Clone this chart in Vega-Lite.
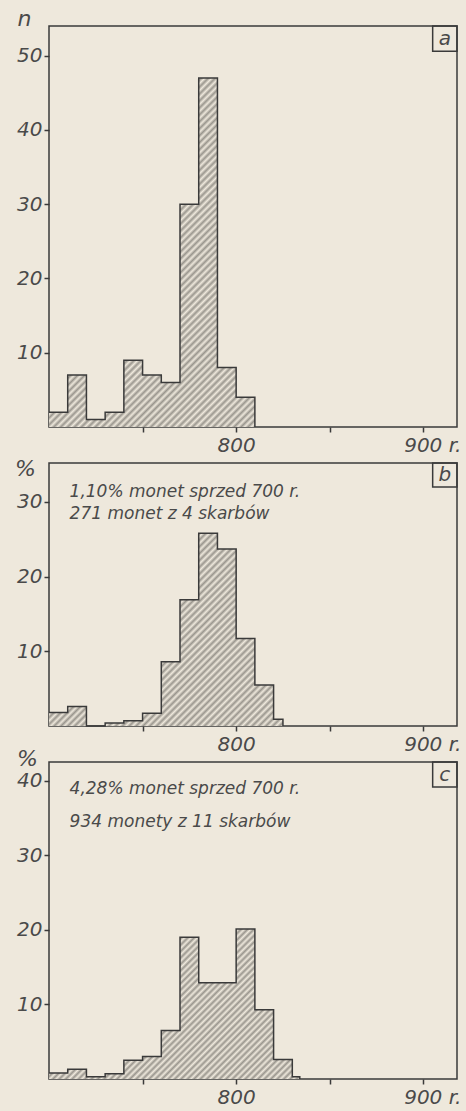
{
"$schema": "https://vega.github.io/schema/vega-lite/v6.json",
"background": "#eee8dc",
"padding": {"left": 13, "top": 6, "right": 5, "bottom": 4},
"bounds": "flush",
"spacing": 36,
"datasets": {
"hist": [
{"panel":"a","year":700,"value":2},{"panel":"a","year":710,"value":7},{"panel":"a","year":720,"value":1},{"panel":"a","year":730,"value":2},{"panel":"a","year":740,"value":9},{"panel":"a","year":750,"value":7},{"panel":"a","year":760,"value":6},{"panel":"a","year":770,"value":30},{"panel":"a","year":780,"value":47},{"panel":"a","year":790,"value":8},{"panel":"a","year":800,"value":4},{"panel":"a","year":810,"value":0},
{"panel":"b","year":700,"value":1.8},{"panel":"b","year":710,"value":2.6},{"panel":"b","year":720,"value":0},{"panel":"b","year":730,"value":0.4},{"panel":"b","year":740,"value":0.7},{"panel":"b","year":750,"value":1.7},{"panel":"b","year":760,"value":8.6},{"panel":"b","year":770,"value":16.9},{"panel":"b","year":780,"value":25.8},{"panel":"b","year":790,"value":23.7},{"panel":"b","year":800,"value":11.7},{"panel":"b","year":810,"value":5.5},{"panel":"b","year":820,"value":0.9},{"panel":"b","year":825,"value":0},
{"panel":"c","year":700,"value":0.8},{"panel":"c","year":710,"value":1.3},{"panel":"c","year":720,"value":0.3},{"panel":"c","year":730,"value":0.7},{"panel":"c","year":740,"value":2.5},{"panel":"c","year":750,"value":3.0},{"panel":"c","year":760,"value":6.5},{"panel":"c","year":770,"value":19.0},{"panel":"c","year":780,"value":12.9},{"panel":"c","year":790,"value":12.9},{"panel":"c","year":800,"value":20.1},{"panel":"c","year":810,"value":9.3},{"panel":"c","year":820,"value":2.6},{"panel":"c","year":830,"value":0.3},{"panel":"c","year":834,"value":0}
],
"notes": [
{"panel":"a","tag":"a","line1":"","line2":""},
{"panel":"b","tag":"b","line1":"1,10% monet sprzed 700 r.","line2":"271 monet z 4 skarbów"},
{"panel":"c","tag":"c","line1":"4,28% monet sprzed 700 r.","line2":"934 monety z 11 skarbów"}
]
},
"vconcat": [
{
"width": 408, "height": 401,
"layer": [
{"data": {"name": "hist"}, "transform": [{"filter": "datum.panel == 'a'"}],
"mark": {"type": "area", "interpolate": "step-after", "fillOpacity": 1, "fill": {"gradient": "linear", "x1": 0, "y1": 0, "x2": 0.6958, "y2": 1.1794, "stops": [
{"offset":0,"color":"#9a968e"},{"offset":0.00625,"color":"#eee8dc"},{"offset":0.0125,"color":"#9a968e"},{"offset":0.01875,"color":"#eee8dc"},{"offset":0.025,"color":"#9a968e"},{"offset":0.03125,"color":"#eee8dc"},{"offset":0.0375,"color":"#9a968e"},{"offset":0.04375,"color":"#eee8dc"},
{"offset":0.05,"color":"#9a968e"},{"offset":0.05625,"color":"#eee8dc"},{"offset":0.0625,"color":"#9a968e"},{"offset":0.06875,"color":"#eee8dc"},{"offset":0.075,"color":"#9a968e"},{"offset":0.08125,"color":"#eee8dc"},{"offset":0.0875,"color":"#9a968e"},{"offset":0.09375,"color":"#eee8dc"},
{"offset":0.1,"color":"#9a968e"},{"offset":0.10625,"color":"#eee8dc"},{"offset":0.1125,"color":"#9a968e"},{"offset":0.11875,"color":"#eee8dc"},{"offset":0.125,"color":"#9a968e"},{"offset":0.13125,"color":"#eee8dc"},{"offset":0.1375,"color":"#9a968e"},{"offset":0.14375,"color":"#eee8dc"},
{"offset":0.15,"color":"#9a968e"},{"offset":0.15625,"color":"#eee8dc"},{"offset":0.1625,"color":"#9a968e"},{"offset":0.16875,"color":"#eee8dc"},{"offset":0.175,"color":"#9a968e"},{"offset":0.18125,"color":"#eee8dc"},{"offset":0.1875,"color":"#9a968e"},{"offset":0.19375,"color":"#eee8dc"},
{"offset":0.2,"color":"#9a968e"},{"offset":0.20625,"color":"#eee8dc"},{"offset":0.2125,"color":"#9a968e"},{"offset":0.21875,"color":"#eee8dc"},{"offset":0.225,"color":"#9a968e"},{"offset":0.23125,"color":"#eee8dc"},{"offset":0.2375,"color":"#9a968e"},{"offset":0.24375,"color":"#eee8dc"},
{"offset":0.25,"color":"#9a968e"},{"offset":0.25625,"color":"#eee8dc"},{"offset":0.2625,"color":"#9a968e"},{"offset":0.26875,"color":"#eee8dc"},{"offset":0.275,"color":"#9a968e"},{"offset":0.28125,"color":"#eee8dc"},{"offset":0.2875,"color":"#9a968e"},{"offset":0.29375,"color":"#eee8dc"},
{"offset":0.3,"color":"#9a968e"},{"offset":0.30625,"color":"#eee8dc"},{"offset":0.3125,"color":"#9a968e"},{"offset":0.31875,"color":"#eee8dc"},{"offset":0.325,"color":"#9a968e"},{"offset":0.33125,"color":"#eee8dc"},{"offset":0.3375,"color":"#9a968e"},{"offset":0.34375,"color":"#eee8dc"},
{"offset":0.35,"color":"#9a968e"},{"offset":0.35625,"color":"#eee8dc"},{"offset":0.3625,"color":"#9a968e"},{"offset":0.36875,"color":"#eee8dc"},{"offset":0.375,"color":"#9a968e"},{"offset":0.38125,"color":"#eee8dc"},{"offset":0.3875,"color":"#9a968e"},{"offset":0.39375,"color":"#eee8dc"},
{"offset":0.4,"color":"#9a968e"},{"offset":0.40625,"color":"#eee8dc"},{"offset":0.4125,"color":"#9a968e"},{"offset":0.41875,"color":"#eee8dc"},{"offset":0.425,"color":"#9a968e"},{"offset":0.43125,"color":"#eee8dc"},{"offset":0.4375,"color":"#9a968e"},{"offset":0.44375,"color":"#eee8dc"},
{"offset":0.45,"color":"#9a968e"},{"offset":0.45625,"color":"#eee8dc"},{"offset":0.4625,"color":"#9a968e"},{"offset":0.46875,"color":"#eee8dc"},{"offset":0.475,"color":"#9a968e"},{"offset":0.48125,"color":"#eee8dc"},{"offset":0.4875,"color":"#9a968e"},{"offset":0.49375,"color":"#eee8dc"},
{"offset":0.5,"color":"#9a968e"},{"offset":0.50625,"color":"#eee8dc"},{"offset":0.5125,"color":"#9a968e"},{"offset":0.51875,"color":"#eee8dc"},{"offset":0.525,"color":"#9a968e"},{"offset":0.53125,"color":"#eee8dc"},{"offset":0.5375,"color":"#9a968e"},{"offset":0.54375,"color":"#eee8dc"},
{"offset":0.55,"color":"#9a968e"},{"offset":0.55625,"color":"#eee8dc"},{"offset":0.5625,"color":"#9a968e"},{"offset":0.56875,"color":"#eee8dc"},{"offset":0.575,"color":"#9a968e"},{"offset":0.58125,"color":"#eee8dc"},{"offset":0.5875,"color":"#9a968e"},{"offset":0.59375,"color":"#eee8dc"},
{"offset":0.6,"color":"#9a968e"},{"offset":0.60625,"color":"#eee8dc"},{"offset":0.6125,"color":"#9a968e"},{"offset":0.61875,"color":"#eee8dc"},{"offset":0.625,"color":"#9a968e"},{"offset":0.63125,"color":"#eee8dc"},{"offset":0.6375,"color":"#9a968e"},{"offset":0.64375,"color":"#eee8dc"},
{"offset":0.65,"color":"#9a968e"},{"offset":0.65625,"color":"#eee8dc"},{"offset":0.6625,"color":"#9a968e"},{"offset":0.66875,"color":"#eee8dc"},{"offset":0.675,"color":"#9a968e"},{"offset":0.68125,"color":"#eee8dc"},{"offset":0.6875,"color":"#9a968e"},{"offset":0.69375,"color":"#eee8dc"},
{"offset":0.7,"color":"#9a968e"},{"offset":0.70625,"color":"#eee8dc"},{"offset":0.7125,"color":"#9a968e"},{"offset":0.71875,"color":"#eee8dc"},{"offset":0.725,"color":"#9a968e"},{"offset":0.73125,"color":"#eee8dc"},{"offset":0.7375,"color":"#9a968e"},{"offset":0.74375,"color":"#eee8dc"},
{"offset":0.75,"color":"#9a968e"},{"offset":0.75625,"color":"#eee8dc"},{"offset":0.7625,"color":"#9a968e"},{"offset":0.76875,"color":"#eee8dc"},{"offset":0.775,"color":"#9a968e"},{"offset":0.78125,"color":"#eee8dc"},{"offset":0.7875,"color":"#9a968e"},{"offset":0.79375,"color":"#eee8dc"},
{"offset":0.8,"color":"#9a968e"},{"offset":0.80625,"color":"#eee8dc"},{"offset":0.8125,"color":"#9a968e"},{"offset":0.81875,"color":"#eee8dc"},{"offset":0.825,"color":"#9a968e"},{"offset":0.83125,"color":"#eee8dc"},{"offset":0.8375,"color":"#9a968e"},{"offset":0.84375,"color":"#eee8dc"},
{"offset":0.85,"color":"#9a968e"},{"offset":0.85625,"color":"#eee8dc"},{"offset":0.8625,"color":"#9a968e"},{"offset":0.86875,"color":"#eee8dc"},{"offset":0.875,"color":"#9a968e"},{"offset":0.88125,"color":"#eee8dc"},{"offset":0.8875,"color":"#9a968e"},{"offset":0.89375,"color":"#eee8dc"},
{"offset":0.9,"color":"#9a968e"},{"offset":0.90625,"color":"#eee8dc"},{"offset":0.9125,"color":"#9a968e"},{"offset":0.91875,"color":"#eee8dc"},{"offset":0.925,"color":"#9a968e"},{"offset":0.93125,"color":"#eee8dc"},{"offset":0.9375,"color":"#9a968e"},{"offset":0.94375,"color":"#eee8dc"},
{"offset":0.95,"color":"#9a968e"},{"offset":0.95625,"color":"#eee8dc"},{"offset":0.9625,"color":"#9a968e"},{"offset":0.96875,"color":"#eee8dc"},{"offset":0.975,"color":"#9a968e"},{"offset":0.98125,"color":"#eee8dc"},{"offset":0.9875,"color":"#9a968e"},{"offset":0.99375,"color":"#eee8dc"},
{"offset":1,"color":"#9a968e"}
]}},
"encoding": {
"x": {"field": "year", "type": "quantitative", "scale": {"domain": [700, 918], "nice": false, "zero": false},
"axis": {"values": [750, 800, 850, 900], "title": null, "labelExpr": "datum.value == 800 ? '800' : datum.value == 900 ? '900 r.' : ''", "labelPadding": 3, "labelOffset": {"condition": {"test": "datum.value == 900", "value": 9}, "value": 0}, "labelOverlap": false, "labelFlush": false}},
"y": {"field": "value", "type": "quantitative", "scale": {"domain": [0, 54], "nice": false},
"axis": {"values": [10, 20, 30, 40, 50], "title": "n", "titleAngle": 0, "titleX": -25, "titleY": -1, "titleAlign": "center", "titleBaseline": "alphabetic", "labelPadding": 2}}
}},
{"data": {"name": "hist"}, "transform": [{"filter": "datum.panel == 'a'"}],
"mark": {"type": "line", "interpolate": "step-after", "color": "#3a3a3a", "strokeWidth": 1.5},
"encoding": {"x": {"field": "year", "type": "quantitative", "axis": {"title": null}}, "y": {"field": "value", "type": "quantitative", "axis": {"title": "n"}}}},
{"data": {"name": "notes"}, "transform": [{"filter": "datum.panel == 'a'"}],
"mark": {"type": "rect", "filled": false, "stroke": "#3a3a3a", "strokeWidth": 1.5},
"encoding": {"x": {"datum": 905, "type": "quantitative"}, "x2": {"datum": 918}, "y": {"datum": 50.6, "type": "quantitative"}, "y2": {"datum": 54}}},
{"data": {"name": "notes"}, "transform": [{"filter": "datum.panel == 'a'"}],
"mark": {"type": "text", "font": "DejaVu Sans", "fontStyle": "italic", "fontSize": 20, "color": "#4a4a4a", "align": "center", "baseline": "middle"},
"encoding": {"text": {"field": "tag"}, "x": {"datum": 911.5, "type": "quantitative"}, "y": {"datum": 52.3, "type": "quantitative"}}}
]
},
{
"width": 408, "height": 263,
"layer": [
{"data": {"name": "hist"}, "transform": [{"filter": "datum.panel == 'b'"}],
"mark": {"type": "area", "interpolate": "step-after", "fillOpacity": 1, "fill": {"gradient": "linear", "x1": 0, "y1": 0, "x2": 1.0863, "y2": 0.8954, "stops": [
{"offset":0,"color":"#9a968e"},{"offset":0.008,"color":"#eee8dc"},{"offset":0.016,"color":"#9a968e"},{"offset":0.024,"color":"#eee8dc"},{"offset":0.032,"color":"#9a968e"},{"offset":0.04,"color":"#eee8dc"},{"offset":0.048,"color":"#9a968e"},{"offset":0.056,"color":"#eee8dc"},{"offset":0.064,"color":"#9a968e"},{"offset":0.072,"color":"#eee8dc"},
{"offset":0.08,"color":"#9a968e"},{"offset":0.088,"color":"#eee8dc"},{"offset":0.096,"color":"#9a968e"},{"offset":0.104,"color":"#eee8dc"},{"offset":0.112,"color":"#9a968e"},{"offset":0.12,"color":"#eee8dc"},{"offset":0.128,"color":"#9a968e"},{"offset":0.136,"color":"#eee8dc"},{"offset":0.144,"color":"#9a968e"},{"offset":0.152,"color":"#eee8dc"},
{"offset":0.16,"color":"#9a968e"},{"offset":0.168,"color":"#eee8dc"},{"offset":0.176,"color":"#9a968e"},{"offset":0.184,"color":"#eee8dc"},{"offset":0.192,"color":"#9a968e"},{"offset":0.2,"color":"#eee8dc"},{"offset":0.208,"color":"#9a968e"},{"offset":0.216,"color":"#eee8dc"},{"offset":0.224,"color":"#9a968e"},{"offset":0.232,"color":"#eee8dc"},
{"offset":0.24,"color":"#9a968e"},{"offset":0.248,"color":"#eee8dc"},{"offset":0.256,"color":"#9a968e"},{"offset":0.264,"color":"#eee8dc"},{"offset":0.272,"color":"#9a968e"},{"offset":0.28,"color":"#eee8dc"},{"offset":0.288,"color":"#9a968e"},{"offset":0.296,"color":"#eee8dc"},{"offset":0.304,"color":"#9a968e"},{"offset":0.312,"color":"#eee8dc"},
{"offset":0.32,"color":"#9a968e"},{"offset":0.328,"color":"#eee8dc"},{"offset":0.336,"color":"#9a968e"},{"offset":0.344,"color":"#eee8dc"},{"offset":0.352,"color":"#9a968e"},{"offset":0.36,"color":"#eee8dc"},{"offset":0.368,"color":"#9a968e"},{"offset":0.376,"color":"#eee8dc"},{"offset":0.384,"color":"#9a968e"},{"offset":0.392,"color":"#eee8dc"},
{"offset":0.4,"color":"#9a968e"},{"offset":0.408,"color":"#eee8dc"},{"offset":0.416,"color":"#9a968e"},{"offset":0.424,"color":"#eee8dc"},{"offset":0.432,"color":"#9a968e"},{"offset":0.44,"color":"#eee8dc"},{"offset":0.448,"color":"#9a968e"},{"offset":0.456,"color":"#eee8dc"},{"offset":0.464,"color":"#9a968e"},{"offset":0.472,"color":"#eee8dc"},
{"offset":0.48,"color":"#9a968e"},{"offset":0.488,"color":"#eee8dc"},{"offset":0.496,"color":"#9a968e"},{"offset":0.504,"color":"#eee8dc"},{"offset":0.512,"color":"#9a968e"},{"offset":0.52,"color":"#eee8dc"},{"offset":0.528,"color":"#9a968e"},{"offset":0.536,"color":"#eee8dc"},{"offset":0.544,"color":"#9a968e"},{"offset":0.552,"color":"#eee8dc"},
{"offset":0.56,"color":"#9a968e"},{"offset":0.568,"color":"#eee8dc"},{"offset":0.576,"color":"#9a968e"},{"offset":0.584,"color":"#eee8dc"},{"offset":0.592,"color":"#9a968e"},{"offset":0.6,"color":"#eee8dc"},{"offset":0.608,"color":"#9a968e"},{"offset":0.616,"color":"#eee8dc"},{"offset":0.624,"color":"#9a968e"},{"offset":0.632,"color":"#eee8dc"},
{"offset":0.64,"color":"#9a968e"},{"offset":0.648,"color":"#eee8dc"},{"offset":0.656,"color":"#9a968e"},{"offset":0.664,"color":"#eee8dc"},{"offset":0.672,"color":"#9a968e"},{"offset":0.68,"color":"#eee8dc"},{"offset":0.688,"color":"#9a968e"},{"offset":0.696,"color":"#eee8dc"},{"offset":0.704,"color":"#9a968e"},{"offset":0.712,"color":"#eee8dc"},
{"offset":0.72,"color":"#9a968e"},{"offset":0.728,"color":"#eee8dc"},{"offset":0.736,"color":"#9a968e"},{"offset":0.744,"color":"#eee8dc"},{"offset":0.752,"color":"#9a968e"},{"offset":0.76,"color":"#eee8dc"},{"offset":0.768,"color":"#9a968e"},{"offset":0.776,"color":"#eee8dc"},{"offset":0.784,"color":"#9a968e"},{"offset":0.792,"color":"#eee8dc"},
{"offset":0.8,"color":"#9a968e"},{"offset":0.808,"color":"#eee8dc"},{"offset":0.816,"color":"#9a968e"},{"offset":0.824,"color":"#eee8dc"},{"offset":0.832,"color":"#9a968e"},{"offset":0.84,"color":"#eee8dc"},{"offset":0.848,"color":"#9a968e"},{"offset":0.856,"color":"#eee8dc"},{"offset":0.864,"color":"#9a968e"},{"offset":0.872,"color":"#eee8dc"},
{"offset":0.88,"color":"#9a968e"},{"offset":0.888,"color":"#eee8dc"},{"offset":0.896,"color":"#9a968e"},{"offset":0.904,"color":"#eee8dc"},{"offset":0.912,"color":"#9a968e"},{"offset":0.92,"color":"#eee8dc"},{"offset":0.928,"color":"#9a968e"},{"offset":0.936,"color":"#eee8dc"},{"offset":0.944,"color":"#9a968e"},{"offset":0.952,"color":"#eee8dc"},
{"offset":0.96,"color":"#9a968e"},{"offset":0.968,"color":"#eee8dc"},{"offset":0.976,"color":"#9a968e"},{"offset":0.984,"color":"#eee8dc"},{"offset":0.992,"color":"#9a968e"},{"offset":1,"color":"#eee8dc"}
]}},
"encoding": {
"x": {"field": "year", "type": "quantitative", "scale": {"domain": [700, 918], "nice": false, "zero": false},
"axis": {"values": [750, 800, 850, 900], "title": null, "labelExpr": "datum.value == 800 ? '800' : datum.value == 900 ? '900 r.' : ''", "labelPadding": 3, "labelOffset": {"condition": {"test": "datum.value == 900", "value": 9}, "value": 0}, "labelOverlap": false, "labelFlush": false}},
"y": {"field": "value", "type": "quantitative", "scale": {"domain": [0, 35.2], "nice": false},
"axis": {"values": [10, 20, 30], "title": "%", "titleAngle": 0, "titleX": -24, "titleY": 12, "titleAlign": "center", "titleBaseline": "alphabetic", "labelPadding": 2}}
}},
{"data": {"name": "hist"}, "transform": [{"filter": "datum.panel == 'b'"}],
"mark": {"type": "line", "interpolate": "step-after", "color": "#3a3a3a", "strokeWidth": 1.5},
"encoding": {"x": {"field": "year", "type": "quantitative", "axis": {"title": null}}, "y": {"field": "value", "type": "quantitative", "axis": {"title": "%"}}}},
{"data": {"name": "notes"}, "transform": [{"filter": "datum.panel == 'b'"}],
"mark": {"type": "rect", "filled": false, "stroke": "#3a3a3a", "strokeWidth": 1.5},
"encoding": {"x": {"datum": 905, "type": "quantitative"}, "x2": {"datum": 918}, "y": {"datum": 32.0, "type": "quantitative"}, "y2": {"datum": 35.2}}},
{"data": {"name": "notes"}, "transform": [{"filter": "datum.panel == 'b'"}],
"mark": {"type": "text", "font": "DejaVu Sans", "fontStyle": "italic", "fontSize": 20, "color": "#4a4a4a", "align": "center", "baseline": "middle"},
"encoding": {"text": {"field": "tag"}, "x": {"datum": 911.5, "type": "quantitative"}, "y": {"datum": 33.6, "type": "quantitative"}}},
{"data": {"name": "notes"}, "transform": [{"filter": "datum.panel == 'b'"}],
"mark": {"type": "text", "font": "DejaVu Sans", "fontStyle": "italic", "fontSize": 17, "color": "#4a4a4a", "align": "left", "baseline": "alphabetic"},
"encoding": {"text": {"field": "line1"}, "x": {"datum": 711, "type": "quantitative"}, "y": {"datum": 30.65, "type": "quantitative"}}},
{"data": {"name": "notes"}, "transform": [{"filter": "datum.panel == 'b'"}],
"mark": {"type": "text", "font": "DejaVu Sans", "fontStyle": "italic", "fontSize": 17, "color": "#4a4a4a", "align": "left", "baseline": "alphabetic"},
"encoding": {"text": {"field": "line2"}, "x": {"datum": 711, "type": "quantitative"}, "y": {"datum": 27.67, "type": "quantitative"}}}
]
},
{
"width": 408, "height": 317,
"layer": [
{"data": {"name": "hist"}, "transform": [{"filter": "datum.panel == 'c'"}],
"mark": {"type": "area", "interpolate": "step-after", "fillOpacity": 1, "fill": {"gradient": "linear", "x1": 0, "y1": 0, "x2": 1.1772, "y2": 0.7036, "stops": [
{"offset":0,"color":"#9a968e"},{"offset":0.008,"color":"#eee8dc"},{"offset":0.016,"color":"#9a968e"},{"offset":0.024,"color":"#eee8dc"},{"offset":0.032,"color":"#9a968e"},{"offset":0.04,"color":"#eee8dc"},{"offset":0.048,"color":"#9a968e"},{"offset":0.056,"color":"#eee8dc"},{"offset":0.064,"color":"#9a968e"},{"offset":0.072,"color":"#eee8dc"},
{"offset":0.08,"color":"#9a968e"},{"offset":0.088,"color":"#eee8dc"},{"offset":0.096,"color":"#9a968e"},{"offset":0.104,"color":"#eee8dc"},{"offset":0.112,"color":"#9a968e"},{"offset":0.12,"color":"#eee8dc"},{"offset":0.128,"color":"#9a968e"},{"offset":0.136,"color":"#eee8dc"},{"offset":0.144,"color":"#9a968e"},{"offset":0.152,"color":"#eee8dc"},
{"offset":0.16,"color":"#9a968e"},{"offset":0.168,"color":"#eee8dc"},{"offset":0.176,"color":"#9a968e"},{"offset":0.184,"color":"#eee8dc"},{"offset":0.192,"color":"#9a968e"},{"offset":0.2,"color":"#eee8dc"},{"offset":0.208,"color":"#9a968e"},{"offset":0.216,"color":"#eee8dc"},{"offset":0.224,"color":"#9a968e"},{"offset":0.232,"color":"#eee8dc"},
{"offset":0.24,"color":"#9a968e"},{"offset":0.248,"color":"#eee8dc"},{"offset":0.256,"color":"#9a968e"},{"offset":0.264,"color":"#eee8dc"},{"offset":0.272,"color":"#9a968e"},{"offset":0.28,"color":"#eee8dc"},{"offset":0.288,"color":"#9a968e"},{"offset":0.296,"color":"#eee8dc"},{"offset":0.304,"color":"#9a968e"},{"offset":0.312,"color":"#eee8dc"},
{"offset":0.32,"color":"#9a968e"},{"offset":0.328,"color":"#eee8dc"},{"offset":0.336,"color":"#9a968e"},{"offset":0.344,"color":"#eee8dc"},{"offset":0.352,"color":"#9a968e"},{"offset":0.36,"color":"#eee8dc"},{"offset":0.368,"color":"#9a968e"},{"offset":0.376,"color":"#eee8dc"},{"offset":0.384,"color":"#9a968e"},{"offset":0.392,"color":"#eee8dc"},
{"offset":0.4,"color":"#9a968e"},{"offset":0.408,"color":"#eee8dc"},{"offset":0.416,"color":"#9a968e"},{"offset":0.424,"color":"#eee8dc"},{"offset":0.432,"color":"#9a968e"},{"offset":0.44,"color":"#eee8dc"},{"offset":0.448,"color":"#9a968e"},{"offset":0.456,"color":"#eee8dc"},{"offset":0.464,"color":"#9a968e"},{"offset":0.472,"color":"#eee8dc"},
{"offset":0.48,"color":"#9a968e"},{"offset":0.488,"color":"#eee8dc"},{"offset":0.496,"color":"#9a968e"},{"offset":0.504,"color":"#eee8dc"},{"offset":0.512,"color":"#9a968e"},{"offset":0.52,"color":"#eee8dc"},{"offset":0.528,"color":"#9a968e"},{"offset":0.536,"color":"#eee8dc"},{"offset":0.544,"color":"#9a968e"},{"offset":0.552,"color":"#eee8dc"},
{"offset":0.56,"color":"#9a968e"},{"offset":0.568,"color":"#eee8dc"},{"offset":0.576,"color":"#9a968e"},{"offset":0.584,"color":"#eee8dc"},{"offset":0.592,"color":"#9a968e"},{"offset":0.6,"color":"#eee8dc"},{"offset":0.608,"color":"#9a968e"},{"offset":0.616,"color":"#eee8dc"},{"offset":0.624,"color":"#9a968e"},{"offset":0.632,"color":"#eee8dc"},
{"offset":0.64,"color":"#9a968e"},{"offset":0.648,"color":"#eee8dc"},{"offset":0.656,"color":"#9a968e"},{"offset":0.664,"color":"#eee8dc"},{"offset":0.672,"color":"#9a968e"},{"offset":0.68,"color":"#eee8dc"},{"offset":0.688,"color":"#9a968e"},{"offset":0.696,"color":"#eee8dc"},{"offset":0.704,"color":"#9a968e"},{"offset":0.712,"color":"#eee8dc"},
{"offset":0.72,"color":"#9a968e"},{"offset":0.728,"color":"#eee8dc"},{"offset":0.736,"color":"#9a968e"},{"offset":0.744,"color":"#eee8dc"},{"offset":0.752,"color":"#9a968e"},{"offset":0.76,"color":"#eee8dc"},{"offset":0.768,"color":"#9a968e"},{"offset":0.776,"color":"#eee8dc"},{"offset":0.784,"color":"#9a968e"},{"offset":0.792,"color":"#eee8dc"},
{"offset":0.8,"color":"#9a968e"},{"offset":0.808,"color":"#eee8dc"},{"offset":0.816,"color":"#9a968e"},{"offset":0.824,"color":"#eee8dc"},{"offset":0.832,"color":"#9a968e"},{"offset":0.84,"color":"#eee8dc"},{"offset":0.848,"color":"#9a968e"},{"offset":0.856,"color":"#eee8dc"},{"offset":0.864,"color":"#9a968e"},{"offset":0.872,"color":"#eee8dc"},
{"offset":0.88,"color":"#9a968e"},{"offset":0.888,"color":"#eee8dc"},{"offset":0.896,"color":"#9a968e"},{"offset":0.904,"color":"#eee8dc"},{"offset":0.912,"color":"#9a968e"},{"offset":0.92,"color":"#eee8dc"},{"offset":0.928,"color":"#9a968e"},{"offset":0.936,"color":"#eee8dc"},{"offset":0.944,"color":"#9a968e"},{"offset":0.952,"color":"#eee8dc"},
{"offset":0.96,"color":"#9a968e"},{"offset":0.968,"color":"#eee8dc"},{"offset":0.976,"color":"#9a968e"},{"offset":0.984,"color":"#eee8dc"},{"offset":0.992,"color":"#9a968e"},{"offset":1,"color":"#eee8dc"}
]}},
"encoding": {
"x": {"field": "year", "type": "quantitative", "scale": {"domain": [700, 918], "nice": false, "zero": false},
"axis": {"values": [750, 800, 850, 900], "title": null, "labelExpr": "datum.value == 800 ? '800' : datum.value == 900 ? '900 r.' : ''", "labelPadding": 3, "labelOffset": {"condition": {"test": "datum.value == 900", "value": 9}, "value": 0}, "labelOverlap": false, "labelFlush": false}},
"y": {"field": "value", "type": "quantitative", "scale": {"domain": [0, 42.5], "nice": false},
"axis": {"values": [10, 20, 30, 40], "title": "%", "titleAngle": 0, "titleX": -22, "titleY": 3, "titleAlign": "center", "titleBaseline": "alphabetic", "labelPadding": 2}}
}},
{"data": {"name": "hist"}, "transform": [{"filter": "datum.panel == 'c'"}],
"mark": {"type": "line", "interpolate": "step-after", "color": "#3a3a3a", "strokeWidth": 1.5},
"encoding": {"x": {"field": "year", "type": "quantitative", "axis": {"title": null}}, "y": {"field": "value", "type": "quantitative", "axis": {"title": "%"}}}},
{"data": {"name": "notes"}, "transform": [{"filter": "datum.panel == 'c'"}],
"mark": {"type": "rect", "filled": false, "stroke": "#3a3a3a", "strokeWidth": 1.5},
"encoding": {"x": {"datum": 905, "type": "quantitative"}, "x2": {"datum": 918}, "y": {"datum": 39.15, "type": "quantitative"}, "y2": {"datum": 42.5}}},
{"data": {"name": "notes"}, "transform": [{"filter": "datum.panel == 'c'"}],
"mark": {"type": "text", "font": "DejaVu Sans", "fontStyle": "italic", "fontSize": 20, "color": "#4a4a4a", "align": "center", "baseline": "middle"},
"encoding": {"text": {"field": "tag"}, "x": {"datum": 911.5, "type": "quantitative"}, "y": {"datum": 40.8, "type": "quantitative"}}},
{"data": {"name": "notes"}, "transform": [{"filter": "datum.panel == 'c'"}],
"mark": {"type": "text", "font": "DejaVu Sans", "fontStyle": "italic", "fontSize": 17, "color": "#4a4a4a", "align": "left", "baseline": "alphabetic"},
"encoding": {"text": {"field": "line1"}, "x": {"datum": 711, "type": "quantitative"}, "y": {"datum": 38.17, "type": "quantitative"}}},
{"data": {"name": "notes"}, "transform": [{"filter": "datum.panel == 'c'"}],
"mark": {"type": "text", "font": "DejaVu Sans", "fontStyle": "italic", "fontSize": 17, "color": "#4a4a4a", "align": "left", "baseline": "alphabetic"},
"encoding": {"text": {"field": "line2"}, "x": {"datum": 711, "type": "quantitative"}, "y": {"datum": 33.83, "type": "quantitative"}}}
]
}
],
"config": {
"view": {"stroke": "#3a3a3a", "strokeWidth": 1.5},
"axis": {"domain": false, "grid": false, "tickSize": 5, "tickWidth": 1.5, "tickColor": "#3a3a3a", "labelFont": "DejaVu Sans", "labelFontStyle": "italic", "labelFontSize": 20, "labelColor": "#4a4a4a", "titleFont": "DejaVu Sans", "titleFontStyle": "italic", "titleFontWeight": "normal", "titleFontSize": 22, "titleColor": "#4a4a4a"}
}
}
